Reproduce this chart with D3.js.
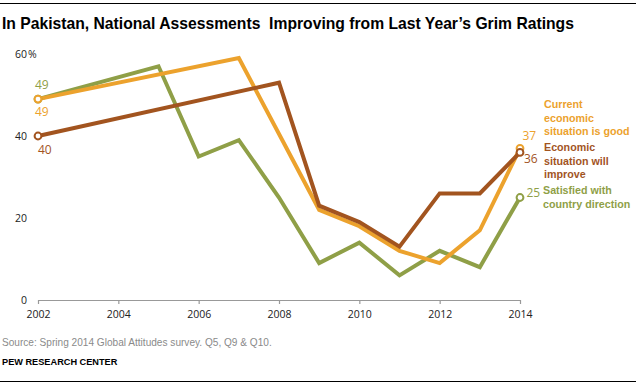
<!DOCTYPE html>
<html>
<head>
<meta charset="utf-8">
<script src="https://cdn.jsdelivr.net/npm/d3@7"></script>
<style>
  html, body { margin: 0; padding: 0; background: #fff; }
  svg { display: block; }
</style>
</head>
<body>
<svg id="chart" width="636" height="386"></svg>
<script>
// ---- Data ----
const years = [2002, 2003, 2004, 2005, 2006, 2007, 2008, 2009, 2010, 2011, 2012, 2013, 2014];
const satisfied   = [49, null, null, 57, 35, 39, 25, 9, 14, 6, 12, 8, 25];
const currentGood = [49, null, null, null, null, 59, null, 22, 18, 12, 9, 17, 37];
const willImprove = [40, null, null, null, null, null, 53, 23, 19, 13, 26, 26, 36];
const xTickYears = [2002, 2004, 2006, 2008, 2010, 2012, 2014];
const yTickValues = [0, 20, 40, 60];
const legendSatisfied = ["Satisfied with", "country direction"];
const legendCurrent = ["Current", "economic", "situation is good"];
const legendImprove = ["Economic", "situation will", "improve"];
const titleText = "In Pakistan, National Assessments  Improving from Last Year\u2019s Grim Ratings";
const sourceText = "Source: Spring 2014 Global Attitudes survey. Q5, Q9 & Q10.";
const creditText = "PEW RESEARCH CENTER";

// ---- Styles ----
const C = { green: "#8f9f47", orange: "#eca22d", brown: "#a2541f" };
const svg = d3.select("#chart");
const x = d3.scaleLinear().domain([2002, 2014]).range([38, 520]);
const y = d3.scaleLinear().domain([0, 60]).range([300, 54]);

// top and bottom rules
svg.append("line").attr("x1", 0).attr("x2", 636).attr("y1", 3.5).attr("y2", 3.5)
  .attr("stroke", "#000").attr("stroke-width", 1.2);
svg.append("line").attr("x1", 0).attr("x2", 636).attr("y1", 381.5).attr("y2", 381.5)
  .attr("stroke", "#000").attr("stroke-width", 1.2);

// title
svg.append("text").attr("x", 2).attr("y", 29)
  .attr("font-family", "'Liberation Sans Narrow', 'Arial Narrow', sans-serif")
  .attr("font-weight", "bold").attr("font-size", 15.7).attr("fill", "#000")
  .style("white-space", "pre")
  .text(titleText);

// x axis
const xAxis = d3.axisBottom(x).tickValues(xTickYears).tickFormat(d3.format("d"))
  .tickSize(4).tickPadding(5);
const gx = svg.append("g").attr("transform", "translate(0,300)").call(xAxis);
gx.select(".domain").attr("stroke", "#999").attr("stroke-width", 1.2).attr("d", "M38,0.5H520");
gx.selectAll(".tick line").attr("stroke", "#999").attr("stroke-width", 1.2);
gx.selectAll(".tick text").attr("fill", "#222")
  .attr("font-family", "'Open Sans', sans-serif").attr("font-size", 10.5).attr("dy", "0.9em");

// y tick labels (no axis line)
const gy = svg.append("g");
gy.selectAll("text.yl").data(yTickValues).join("text").attr("class", "yl")
  .attr("x", 27).attr("y", d => y(d) + 3.8)
  .attr("text-anchor", "end")
  .attr("font-family", "'Open Sans', sans-serif").attr("font-size", 10.5).attr("fill", "#222")
  .text(d => d);
gy.append("text").attr("x", 28).attr("y", y(60) + 3.8)
  .attr("font-family", "'Open Sans', sans-serif").attr("font-size", 10.5).attr("fill", "#222")
  .text("%");

// lines
const series = [
  { key: "satisfied", vals: satisfied, color: C.green },
  { key: "current", vals: currentGood, color: C.orange },
  { key: "improve", vals: willImprove, color: C.brown }
];
const line = d3.line().x(d => x(d.yr)).y(d => y(d.v));
series.forEach(s => {
  const pts = years.map((yr, i) => ({ yr, v: s.vals[i] })).filter(d => d.v != null);
  s.pts = pts;
  svg.append("path").datum(pts).attr("d", line)
    .attr("fill", "none").attr("stroke", s.color).attr("stroke-width", 4)
    .attr("stroke-linejoin", "miter");
});
series.forEach(s => {
  const ends = [s.pts[0], s.pts[s.pts.length - 1]];
  svg.selectAll(null).data(ends).join("circle")
    .attr("cx", d => x(d.yr)).attr("cy", d => y(d.v)).attr("r", 3.4)
    .attr("fill", "#fff").attr("stroke", s.color).attr("stroke-width", 2);
});

// value labels
const valFont = "'Open Sans', sans-serif";
function valLabel(yr, v, dx, dy, color) {
  svg.append("text").attr("x", x(yr) + dx).attr("y", y(v) + dy)
    .attr("font-family", valFont).attr("font-size", 12).attr("fill", color)
    .text(v);
}
const iEnd = years.length - 1;
valLabel(years[0], satisfied[0], -3, -10, C.green);
valLabel(years[0], currentGood[0], -3, 17, C.orange);
valLabel(years[0], willImprove[0], 0, 18, C.brown);
valLabel(years[iEnd], currentGood[iEnd], 2.5, -8.5, C.orange);
valLabel(years[iEnd], willImprove[iEnd], 4, 10.5, C.brown);
valLabel(years[iEnd], satisfied[iEnd], 6.5, -0.5, C.green);

// legend labels
function legend(lines, x0, y0, color) {
  const t = svg.append("text").attr("x", x0).attr("y", y0)
    .attr("font-family", "'Liberation Sans', Arial, sans-serif")
    .attr("font-weight", "bold").attr("font-size", 10.7).attr("fill", color);
  lines.forEach((l, i) => {
    t.append("tspan").attr("x", x0).attr("y", y0 + i * 13.5).text(l);
  });
}
legend(legendCurrent, 544, 108, C.orange);
legend(legendImprove, 544, 151, C.brown);
legend(legendSatisfied, 543, 194, C.green);

// footer
svg.append("text").attr("x", 2).attr("y", 346)
  .attr("font-family", "'Liberation Sans Narrow', 'Arial Narrow', sans-serif")
  .attr("font-size", 10.1).attr("fill", "#8a8a8a").text(sourceText);
svg.append("text").attr("x", 2).attr("y", 365)
  .attr("font-family", "'Liberation Sans', Arial, sans-serif")
  .attr("font-weight", "bold").attr("font-size", 9.2).attr("fill", "#000").text(creditText);
</script>
</body>
</html>
